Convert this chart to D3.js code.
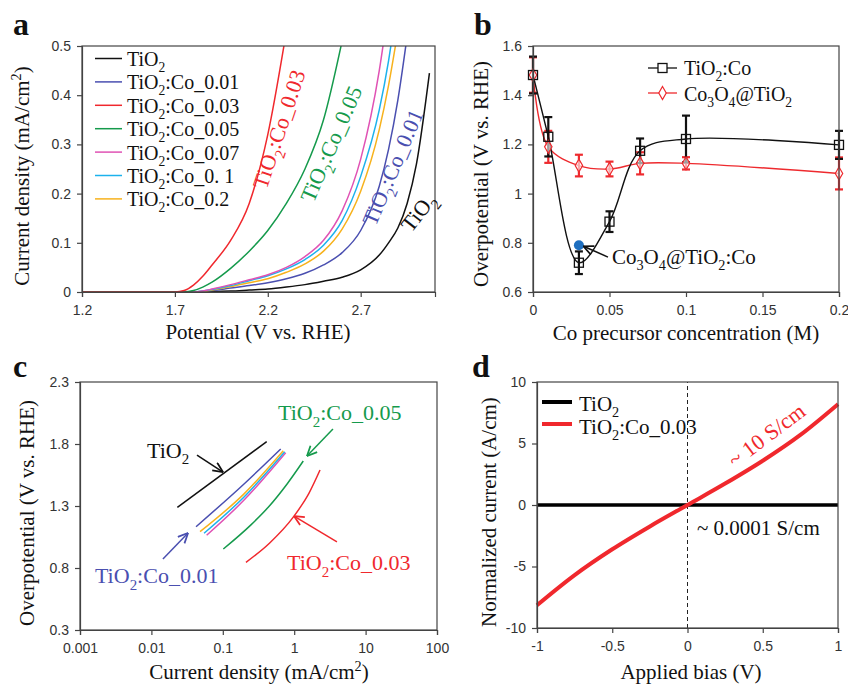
<!DOCTYPE html>
<html>
<head>
<meta charset="utf-8">
<title>TiO2:Co panels</title>
<script src="https://d3js.org/d3.v7.min.js"></script>
<style>
  body { margin: 0; background: #fff; }
  .axis text { font-family: "Liberation Sans", Arial, sans-serif; font-size: 14px; fill: #333; }
  .axis path, .axis line { stroke: #444; stroke-width: 1.2; }
</style>
</head>
<body>
<svg id="fig" width="848" height="685" style="background:#fff"></svg>
<script>
// ---- panel a: polarisation curves ----
var potential = [1.2, 1.7, 1.75, 1.8, 1.85, 1.9, 2.0, 2.1, 2.2, 2.3, 2.4, 2.5, 2.6, 2.7, 2.8, 2.85, 2.9, 2.95, 3.0, 3.07];
var jTiO2  = [0, 0, 0, 0, 0, 0.001, 0.002, 0.004, 0.006, 0.01, 0.015, 0.022, 0.03, 0.045, 0.075, 0.1, 0.13, 0.18, 0.26, 0.445];
var jCo001 = [0, 0, 0, 0, 0.001, 0.003, 0.008, 0.013, 0.019, 0.027, 0.038, 0.055, 0.08, 0.125, 0.215, 0.29, 0.39, 0.52, null, null];
var jCo003 = [0, 0, 0.003, 0.014, 0.032, 0.055, 0.105, 0.18, 0.32, 0.53, null, null, null, null, null, null, null, null, null, null];
var jCo005 = [0, 0, 0, 0.003, 0.01, 0.02, 0.048, 0.083, 0.125, 0.18, 0.25, 0.35, 0.51, null, null, null, null, null, null, null];
var jCo007 = [0, 0, 0, 0, 0.002, 0.006, 0.015, 0.025, 0.035, 0.05, 0.072, 0.105, 0.165, 0.27, 0.45, 0.58, null, null, null, null];
var jCo01  = [0, 0, 0, 0, 0.002, 0.005, 0.013, 0.023, 0.033, 0.047, 0.066, 0.095, 0.145, 0.235, 0.37, 0.47, 0.6, null, null, null];
var jCo02  = [0, 0, 0, 0, 0.001, 0.004, 0.011, 0.019, 0.027, 0.04, 0.057, 0.083, 0.128, 0.205, 0.33, 0.42, 0.53, null, null, null];
var sampleNames = ["TiO{2}", "TiO{2}:Co_0.01", "TiO{2}:Co_0.03", "TiO{2}:Co_0.05", "TiO{2}:Co_0.07", "TiO{2}:Co_0. 1", "TiO{2}:Co_0.2"];
var sampleColors = ["#111111", "#4a4fb0", "#f0282d", "#159a4c", "#e052b4", "#1cb2ec", "#f7b21c"];
var potentialTicks = [1.2, 1.7, 2.2, 2.7];
var currentTicks = [0, 0.1, 0.2, 0.3, 0.4, 0.5];

// ---- panel b: overpotential vs Co concentration ----
var concentration = [0, 0.01, 0.03, 0.05, 0.07, 0.1, 0.2];
var etaTiCo = [1.482, 1.231, 0.719, 0.886, 1.174, 1.222, 1.198];
var errTiCo = [0.075, 0.08, 0.046, 0.042, 0.05, 0.095, 0.057];
var etaCoOx = [1.482, 1.19, 1.114, 1.1, 1.123, 1.123, 1.082];
var errCoOx = [0.072, 0.065, 0.044, 0.03, 0.045, 0.025, 0.065];
var coOxCoPoint = [0.03, 0.79];
var concTicks = [0, 0.05, 0.1, 0.15, 0.2];
var etaTicks = [0.6, 0.8, 1, 1.2, 1.4, 1.6];

// ---- panel c: Tafel plots [current density, overpotential] ----
var tafelTiO2  = [[0.0231, 1.289], [0.412, 1.819]];
var tafelCo001 = [[0.0422, 1.133], [0.2, 1.48], [0.647, 1.76]];
var tafelCo003 = [[0.211, 0.846], [0.45, 1.0], [0.97, 1.21], [1.6, 1.4], [2.3, 1.59]];
var tafelCo005 = [[0.1016, 0.953], [0.25, 1.15], [0.433, 1.29], [0.8, 1.48], [1.34, 1.663]];
var tafelCo007 = [[0.0594, 1.064], [0.2, 1.35], [0.76, 1.73]];
var tafelCo01  = [[0.0546, 1.08], [0.2, 1.375], [0.736, 1.738]];
var tafelCo02  = [[0.048, 1.093], [0.2, 1.4], [0.703, 1.746]];
var tafelCurrentTicks = [0.001, 0.01, 0.1, 1, 10, 100];
var tafelEtaTicks = [0.3, 0.8, 1.3, 1.8, 2.3];

// ---- panel d: I-V ----
var bias = [-1, -0.75, -0.5, -0.25, 0, 0.25, 0.5, 0.75, 1];
var ivTiO2 = [-0.0001, -0.000075, -0.00005, -0.000025, 0, 0.000025, 0.00005, 0.000075, 0.0001];
var ivCo003 = [-8.15, -5.7, -3.6, -1.74, 0, 1.74, 3.6, 5.7, 8.2];
var biasTicks = [-1, -0.5, 0, 0.5, 1];
var ivTicks = [-10, -5, 0, 5, 10];

var svg = d3.select("#fig");
var serif = '"Liberation Serif", "Times New Roman", serif';
var defs = svg.append("defs");

// write "TiO{2}" as subscript, "cm^{2}" as superscript
function rich(sel, str, size) {
  var parts = str.split(/(\^?\{[^}]*\})/).filter(function (s) { return s.length; });
  var shift = 0;
  parts.forEach(function (p) {
    var dy = 0, fs = null, t = p;
    if (p.indexOf("^{") === 0) { t = p.slice(2, -1); dy = -0.38 * size; fs = 0.68 * size; }
    else if (p.indexOf("{") === 0) { t = p.slice(1, -1); dy = 0.3 * size; fs = 0.68 * size; }
    var ts = sel.append("tspan").attr("dy", dy - shift).text(t);
    if (fs) ts.attr("font-size", fs);
    shift = dy;
  });
  return sel;
}

function label(x, y, str, size, color, opts) {
  opts = opts || {};
  var t = svg.append("text")
    .attr("x", x).attr("y", y)
    .attr("font-family", serif)
    .attr("font-size", size)
    .attr("fill", color || "#111")
    .attr("text-anchor", opts.anchor || "start");
  if (opts.rotate != null) t.attr("transform", "rotate(" + opts.rotate + "," + x + "," + y + ")");
  if (opts.bold) t.attr("font-weight", "bold");
  return rich(t, str, size);
}

function arrowMarker(id, color) {
  defs.append("marker")
    .attr("id", id)
    .attr("viewBox", "0 0 10 10")
    .attr("refX", 9.5).attr("refY", 5)
    .attr("markerWidth", 11).attr("markerHeight", 11)
    .attr("markerUnits", "userSpaceOnUse")
    .attr("orient", "auto")
    .append("path")
    .attr("d", "M0.5,0.8 L9.5,5 L0.5,9.2")
    .attr("fill", "none").attr("stroke", color).attr("stroke-width", 1.6);
}

function arrow(x1, y1, x2, y2, color, id) {
  svg.append("line")
    .attr("x1", x1).attr("y1", y1).attr("x2", x2).attr("y2", y2)
    .attr("stroke", color).attr("stroke-width", 1.5)
    .attr("marker-end", "url(#" + id + ")");
}

function axesBox(x, y, box, xt, yt) {
  svg.append("g").attr("class", "axis")
    .attr("transform", "translate(0," + box.b + ")")
    .call(d3.axisBottom(x).tickValues(xt).tickFormat(String).tickSizeOuter(0).tickSize(5).tickPadding(8));
  svg.append("g").attr("class", "axis")
    .attr("transform", "translate(" + box.l + ",0)")
    .call(d3.axisLeft(y).tickValues(yt).tickFormat(String).tickSizeOuter(0).tickSize(5).tickPadding(6));
  svg.append("rect")
    .attr("x", box.l).attr("y", box.t)
    .attr("width", box.r - box.l).attr("height", box.b - box.t)
    .attr("fill", "none").attr("stroke", "#444").attr("stroke-width", 1.2);
}

// ================= panel a =================
var boxA = { l: 82, t: 46, r: 435, b: 292 };
var xa = d3.scaleLinear().domain([1.2, 3.1]).range([boxA.l, boxA.r]);
var ya = d3.scaleLinear().domain([0, 0.5]).range([boxA.b, boxA.t]);

defs.append("clipPath").attr("id", "clipA")
  .append("rect").attr("x", boxA.l).attr("y", boxA.t)
  .attr("width", boxA.r - boxA.l).attr("height", boxA.b - boxA.t);

var lsvSeries = [jTiO2, jCo001, jCo003, jCo005, jCo007, jCo01, jCo02];
var lineA = d3.line()
  .defined(function (d) { return d[1] != null; })
  .x(function (d) { return xa(d[0]); })
  .y(function (d) { return ya(d[1]); })
  .curve(d3.curveMonotoneX);

var gA = svg.append("g").attr("clip-path", "url(#clipA)");
// draw order: lower curves first
[0, 1, 6, 5, 4, 3, 2].forEach(function (i) {
  var pts = potential.map(function (v, k) { return [v, lsvSeries[i][k]]; });
  gA.append("path")
    .attr("d", lineA(pts))
    .attr("fill", "none")
    .attr("stroke", sampleColors[i])
    .attr("stroke-width", 1.5);
});
axesBox(xa, ya, boxA, potentialTicks, currentTicks);

// legend a
sampleNames.forEach(function (name, i) {
  var yy = 58.5 + i * 23.4;
  svg.append("line").attr("x1", 95).attr("x2", 122).attr("y1", yy).attr("y2", yy)
    .attr("stroke", sampleColors[i]).attr("stroke-width", 1.5);
  label(127, yy + 7.5, name, 20, "#111");
});

// rotated curve labels (anchored in data units)
label(xa(2.193), ya(0.207), "TiO{2}:Co_0.03", 22, sampleColors[2], { rotate: -71.5 });
label(xa(2.446), ya(0.18), "TiO{2}:Co_0.05", 22, sampleColors[3], { rotate: -66.5 });
label(xa(2.78), ya(0.132), "TiO{2}:Co_0.01", 22, sampleColors[1], { rotate: -67 });
label(xa(2.972), ya(0.119), "TiO{2}", 22, "#111", { rotate: -52 });

label(258, 339, "Potential (V vs. RHE)", 21, "#111", { anchor: "middle" });
label(29, 176, "Current density (mA/cm^{2})", 21, "#111", { anchor: "middle", rotate: -90 });
label(13, 35, "a", 32, "#111", { bold: true });

// ================= panel b =================
var boxB = { l: 533, t: 46, r: 839, b: 292 };
var xb = d3.scaleLinear().domain([0, 0.2]).range([boxB.l, boxB.r]);
var yb = d3.scaleLinear().domain([0.6, 1.6]).range([boxB.b, boxB.t]);
var lineB = d3.line()
  .x(function (d) { return xb(d[0]); })
  .y(function (d) { return yb(d[1]); })
  .curve(d3.curveCatmullRom.alpha(0.5));

function errorBars(eta, err, color) {
  concentration.forEach(function (c, i) {
    var x = xb(c), y1 = yb(eta[i] - err[i]), y2 = yb(eta[i] + err[i]);
    svg.append("line").attr("x1", x).attr("x2", x).attr("y1", y1).attr("y2", y2)
      .attr("stroke", color).attr("stroke-width", 2.2);
    [y1, y2].forEach(function (yy) {
      svg.append("line").attr("x1", x - 4).attr("x2", x + 4).attr("y1", yy).attr("y2", yy)
        .attr("stroke", color).attr("stroke-width", 2.2);
    });
  });
}

var redB = "#ee2a2e";
svg.append("path")
  .attr("d", lineB(concentration.map(function (c, i) { return [c, etaCoOx[i]]; })))
  .attr("fill", "none").attr("stroke", redB).attr("stroke-width", 1.4);
errorBars(etaCoOx, errCoOx, redB);
svg.append("path")
  .attr("d", lineB(concentration.map(function (c, i) { return [c, etaTiCo[i]]; })))
  .attr("fill", "none").attr("stroke", "#111").attr("stroke-width", 1.4);
errorBars(etaTiCo, errTiCo, "#111");

var diamond = d3.symbol().type(d3.symbolDiamond).size(48);
concentration.forEach(function (c, i) {
  svg.append("path").attr("d", diamond())
    .attr("transform", "translate(" + xb(c) + "," + yb(etaCoOx[i]) + ")")
    .attr("fill", "#fff").attr("fill-opacity", 0.6).attr("stroke", redB).attr("stroke-width", 1.2);
  svg.append("rect")
    .attr("x", xb(c) - 4.5).attr("y", yb(etaTiCo[i]) - 4.5)
    .attr("width", 9).attr("height", 9)
    .attr("fill", "none").attr("stroke", "#111").attr("stroke-width", 1.3);
});
svg.append("circle")
  .attr("cx", xb(coOxCoPoint[0])).attr("cy", yb(coOxCoPoint[1])).attr("r", 5)
  .attr("fill", "#1f6fbf");

arrowMarker("arrBlack", "#111");
arrow(xb(0.049), yb(0.742), xb(0.033), yb(0.786), "#111", "arrBlack");
label(xb(0.0516), yb(0.715), "Co{3}O{4}@TiO{2}:Co", 21, "#111");

axesBox(xb, yb, boxB, concTicks, etaTicks);

// legend b
svg.append("line").attr("x1", 648).attr("x2", 677).attr("y1", 68).attr("y2", 68)
  .attr("stroke", "#111").attr("stroke-width", 1.3);
svg.append("rect").attr("x", 658).attr("y", 63.5).attr("width", 9).attr("height", 9)
  .attr("fill", "#fff").attr("stroke", "#111").attr("stroke-width", 1.3);
label(684, 75, "TiO{2}:Co", 20, "#111");
svg.append("line").attr("x1", 648).attr("x2", 677).attr("y1", 93).attr("y2", 93)
  .attr("stroke", redB).attr("stroke-width", 1.3);
svg.append("path").attr("d", diamond()).attr("transform", "translate(662.5,93)")
  .attr("fill", "#fff").attr("stroke", redB).attr("stroke-width", 1.2);
label(684, 101, "Co{3}O{4}@TiO{2}", 20, "#111");

label(686, 340, "Co precursor concentration (M)", 21, "#111", { anchor: "middle" });
label(488, 174, "Overpotential (V vs. RHE)", 21, "#111", { anchor: "middle", rotate: -90 });
label(474, 35, "b", 32, "#111", { bold: true });

// ================= panel c =================
var boxC = { l: 80, t: 382, r: 437, b: 630 };
var xc = d3.scaleLog().domain([0.001, 100]).range([boxC.l, boxC.r]);
var yc = d3.scaleLinear().domain([0.3, 2.3]).range([boxC.b, boxC.t]);
var lineC = d3.line()
  .x(function (d) { return xc(d[0]); })
  .y(function (d) { return yc(d[1]); })
  .curve(d3.curveMonotoneX);

var tafelSeries = [tafelTiO2, tafelCo001, tafelCo003, tafelCo005, tafelCo007, tafelCo01, tafelCo02];
[0, 3, 2, 4, 5, 6, 1].forEach(function (i) {
  svg.append("path")
    .attr("d", lineC(tafelSeries[i]))
    .attr("fill", "none").attr("stroke", sampleColors[i]).attr("stroke-width", 1.5);
});
axesBox(xc, yc, boxC, tafelCurrentTicks, tafelEtaTicks);

arrowMarker("arrC0", sampleColors[0]);
arrowMarker("arrC1", sampleColors[1]);
arrowMarker("arrC2", sampleColors[2]);
arrowMarker("arrC3", sampleColors[3]);
label(xc(0.00867), yc(1.69), "TiO{2}", 22, "#111");
arrow(xc(0.0435), yc(1.711), xc(0.1007), yc(1.574), sampleColors[0], "arrC0");
label(xc(0.593), yc(1.994), "TiO{2}:Co_0.05", 22, sampleColors[3]);
arrow(xc(3.49), yc(1.921), xc(1.51), yc(1.703), sampleColors[3], "arrC3");
label(xc(0.00162), yc(0.679), "TiO{2}:Co_0.01", 22, sampleColors[1]);
arrow(xc(0.0145), yc(0.873), xc(0.0326), yc(1.082), sampleColors[1], "arrC1");
label(xc(0.792), yc(0.784), "TiO{2}:Co_0.03", 22, sampleColors[2]);
arrow(xc(3.97), yc(1.01), xc(0.993), yc(1.219), sampleColors[2], "arrC2");

label(259, 679, "Current density (mA/cm^{2})", 21, "#111", { anchor: "middle" });
label(34, 513, "Overpotential (V vs. RHE)", 21, "#111", { anchor: "middle", rotate: -90 });
label(13, 377, "c", 32, "#111", { bold: true });

// ================= panel d =================
var boxD = { l: 537, t: 382, r: 838, b: 628 };
var xd = d3.scaleLinear().domain([-1, 1]).range([boxD.l, boxD.r]);
var yd = d3.scaleLinear().domain([-10, 10]).range([boxD.b, boxD.t]);
var lineD = d3.line()
  .x(function (d) { return xd(d[0]); })
  .y(function (d) { return yd(d[1]); })
  .curve(d3.curveMonotoneX);

svg.append("line")
  .attr("x1", xd(0)).attr("x2", xd(0)).attr("y1", yd(-10)).attr("y2", yd(10))
  .attr("stroke", "#222").attr("stroke-width", 1).attr("stroke-dasharray", "4,3");
svg.append("path")
  .attr("d", lineD(bias.map(function (b, i) { return [b, ivTiO2[i]]; })))
  .attr("fill", "none").attr("stroke", "#000").attr("stroke-width", 3.5);
svg.append("path")
  .attr("d", lineD(bias.map(function (b, i) { return [b, ivCo003[i]]; })))
  .attr("fill", "none").attr("stroke", "#f0282d").attr("stroke-width", 4);
axesBox(xd, yd, boxD, biasTicks, ivTicks);

// legend d
svg.append("line").attr("x1", 542).attr("x2", 572).attr("y1", 402).attr("y2", 402)
  .attr("stroke", "#000").attr("stroke-width", 4);
label(579, 411, "TiO{2}", 21, "#111");
svg.append("line").attr("x1", 542).attr("x2", 572).attr("y1", 424).attr("y2", 424)
  .attr("stroke", "#f0282d").attr("stroke-width", 4);
label(579, 434, "TiO{2}:Co_0.03", 21, "#111");

label(xd(0.316), yd(2.98), "~ 10 S/cm", 22, "#f0282d", { rotate: -37 });
label(xd(0.063), yd(-2.4), "~ 0.0001 S/cm", 21, "#111");

label(691, 679, "Applied bias (V)", 21, "#111", { anchor: "middle" });
label(496, 512, "Normalized current (A/cm)", 21, "#111", { anchor: "middle", rotate: -90 });
label(472, 377, "d", 32, "#111", { bold: true });
</script>
</body>
</html>
